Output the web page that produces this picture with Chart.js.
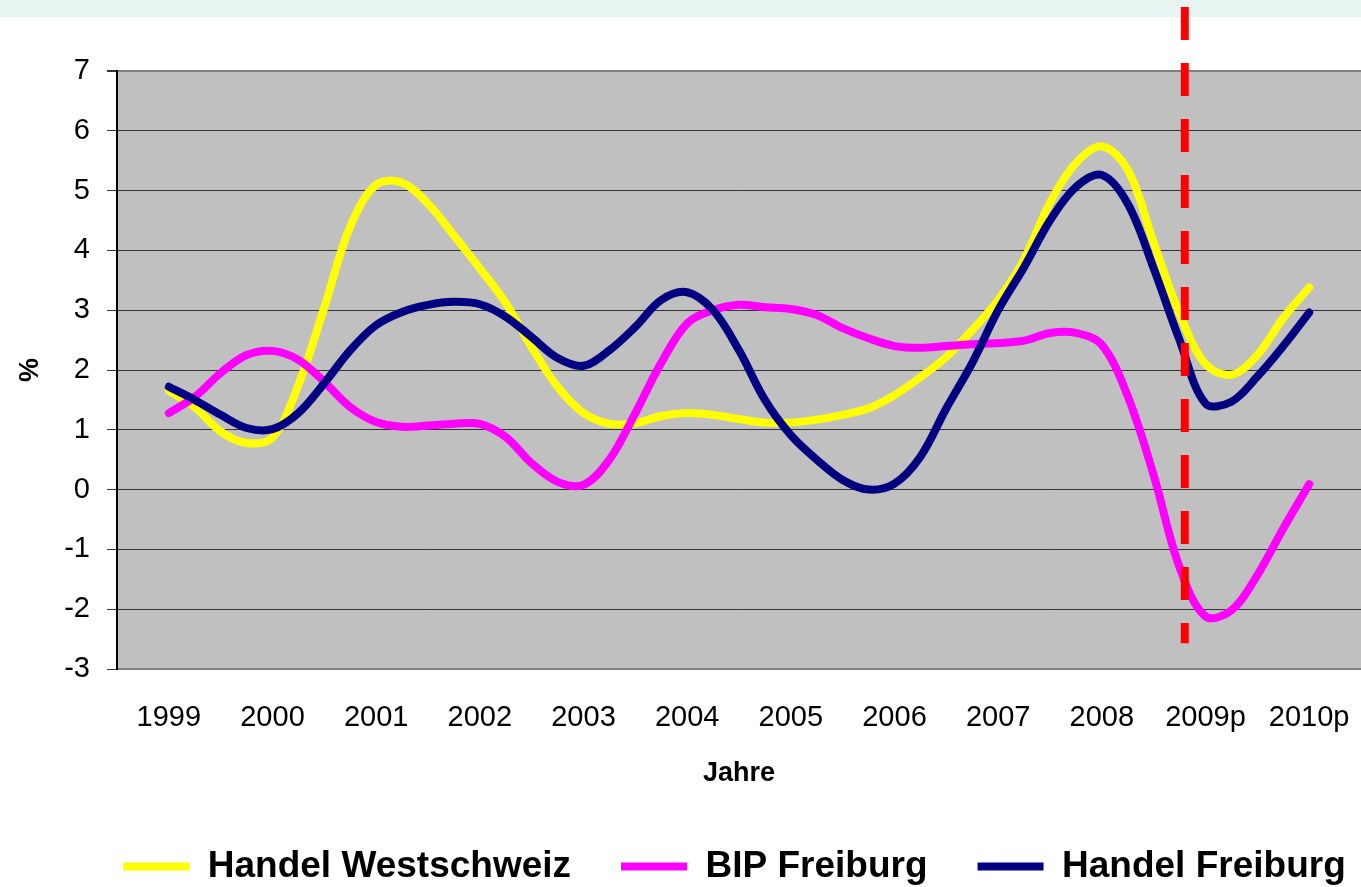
<!DOCTYPE html>
<html>
<head>
<meta charset="utf-8">
<script src="https://cdn.jsdelivr.net/npm/chart.js@4.4.1/dist/chart.umd.min.js"></script>
<style>
  html, body { margin: 0; padding: 0; background: #fff; overflow: hidden; }
  #wrap { width: 1361px; height: 887px; position: relative; }
</style>
</head>
<body>
<div id="wrap"><canvas id="growthChart"></canvas></div>
<script>
// year labels on the x axis, data is quarterly (4 points per year)
const years = ['1999', '2000', '2001', '2002', '2003', '2004', '2005', '2006', '2007', '2008', '2009p', '2010p'];

const handelWestschweiz = [
  1.65, 1.38, 0.97, 0.78, 0.87, 1.75, 3.05, 4.4, 5.1, 5.13, 4.78, 4.25,
  3.7, 3.12, 2.38, 1.72, 1.28, 1.1, 1.11, 1.23, 1.28, 1.25, 1.18, 1.12,
  1.12, 1.17, 1.25, 1.36, 1.58, 1.88, 2.22, 2.67, 3.17, 3.85, 4.8, 5.46,
  5.74, 5.35, 4.13, 2.94, 2.1, 1.92, 2.25, 2.87, 3.38
];
const bipFreiburg = [
  1.28, 1.55, 1.95, 2.25, 2.32, 2.17, 1.8, 1.38, 1.13, 1.05, 1.07, 1.1,
  1.1, 0.88, 0.44, 0.13, 0.08, 0.5, 1.28, 2.12, 2.78, 3.0, 3.09, 3.05,
  3.02, 2.92, 2.7, 2.53, 2.4, 2.37, 2.4, 2.43, 2.45, 2.49, 2.62, 2.62,
  2.42, 1.56, 0.24, -1.3, -2.12, -2.02, -1.43, -0.65, 0.09
];
const handelFreiburg = [
  1.72, 1.5, 1.25, 1.03, 1.01, 1.28, 1.78, 2.33, 2.75, 2.97, 3.09, 3.14,
  3.1, 2.89, 2.55, 2.2, 2.07, 2.33, 2.72, 3.17, 3.3, 3.0, 2.33, 1.5,
  0.91, 0.5, 0.16, 0.0, 0.1, 0.55, 1.36, 2.12, 3.0, 3.72, 4.5, 5.06,
  5.26, 4.78, 3.7, 2.5, 1.44, 1.47, 1.89, 2.4, 2.96
];

// red dashed marker: start of forecast (x in year index units, y span in %)
const forecastStart = 9.8;
const forecastTop = 8.07;
const forecastBottom = -2.57;

Chart.defaults.font.family = "'Liberation Sans', Arial, sans-serif";
Chart.defaults.color = '#000';

function toPoints(values) {
  return values.map((v, i) => ({ x: i / 4, y: v }));
}

const plotBackground = {
  id: 'plotBackground',
  beforeDraw(chart) {
    const { ctx, chartArea: a } = chart;
    ctx.save();
    ctx.fillStyle = '#fff';
    ctx.fillRect(0, 0, chart.width, chart.height);
    ctx.fillStyle = '#E7F4F1';
    ctx.fillRect(0, 0, chart.width, 17);
    ctx.fillStyle = '#C0C0C0';
    ctx.fillRect(a.left, a.top, a.right - a.left, a.bottom - a.top);
    ctx.restore();
  }
};

// the legend in the original sits a bit right of centre and a bit lower
const legendShift = {
  id: 'legendShift',
  afterLayout(chart) {
    const lg = chart.legend;
    lg.left += 54; lg.right += 54;
    lg.top += 8; lg.bottom += 8;
  }
};

const forecastLine = {
  id: 'forecastLine',
  afterDatasetsDraw(chart) {
    const { ctx, scales: { x, y } } = chart;
    const px = x.getPixelForValue(forecastStart);
    ctx.save();
    ctx.strokeStyle = '#FF0000';
    ctx.lineWidth = 8;
    ctx.setLineDash([33, 23]);
    ctx.beginPath();
    ctx.moveTo(px, y.getPixelForValue(forecastTop));
    ctx.lineTo(px, y.getPixelForValue(forecastBottom));
    ctx.stroke();
    ctx.restore();
  }
};

const lineStyle = {
  borderWidth: 8,
  borderCapStyle: 'round',
  borderJoinStyle: 'round',
  pointRadius: 0,
  fill: false,
  tension: 0.35
};

const chart = new Chart(document.getElementById('growthChart'), {
  type: 'line',
  data: {
    datasets: [
      { label: 'Handel Westschweiz', data: toPoints(handelWestschweiz), borderColor: '#FFFF00', backgroundColor: '#FFFF00', order: 2, ...lineStyle },
      { label: 'BIP Freiburg', data: toPoints(bipFreiburg), borderColor: '#FF00FF', backgroundColor: '#FF00FF', order: 1, ...lineStyle },
      { label: 'Handel Freiburg', data: toPoints(handelFreiburg), borderColor: '#000080', backgroundColor: '#000080', order: 0, ...lineStyle }
    ]
  },
  options: {
    responsive: true,
    maintainAspectRatio: false,
    animation: false,
    layout: { padding: { top: 71, left: 0, right: 0, bottom: 0 } },
    scales: {
      x: {
        type: 'linear',
        min: -0.5,
        max: 11.5,
        afterBuildTicks: (s) => { s.ticks = years.map((_, i) => ({ value: i })); },
        afterFit: (s) => { s.height = 121; s.paddingRight = 0; s.paddingLeft = 0; },
        ticks: {
          callback: (v) => years[v],
          font: { size: 29 },
          padding: 32,
          maxRotation: 0,
          autoSkip: false
        },
        grid: { display: false, drawTicks: false },
        border: { color: '#808080', width: 2 },
        title: { display: true, text: 'Jahre', font: { size: 27, weight: 'bold' }, padding: { top: 2, bottom: 0 } }
      },
      y: {
        min: -3,
        max: 7,
        afterFit: (s) => { s.width = 117; },
        ticks: { stepSize: 1, font: { size: 29 }, padding: 17 },
        grid: {
          color: (c) => (c.tick.value === 7 || c.tick.value === -3) ? '#808080' : '#333',
          lineWidth: (c) => (c.tick.value === 7) ? 2 : 1,
          tickLength: 10,
          tickColor: '#333'
        },
        border: { color: '#000', width: 2 },
        title: { display: true, text: '%', font: { size: 27, weight: 'bold' }, padding: 14 }
      }
    },
    plugins: {
      tooltip: { enabled: false },
      legend: {
        position: 'bottom',
        labels: {
          usePointStyle: true,
          pointStyle: 'line',
          pointStyleWidth: 66,
          font: { size: 37, weight: 'bold' },
          padding: 50,
          sort: (a, b) => a.datasetIndex - b.datasetIndex
        }
      }
    }
  },
  plugins: [plotBackground, legendShift, forecastLine]
});
</script>
</body>
</html>
